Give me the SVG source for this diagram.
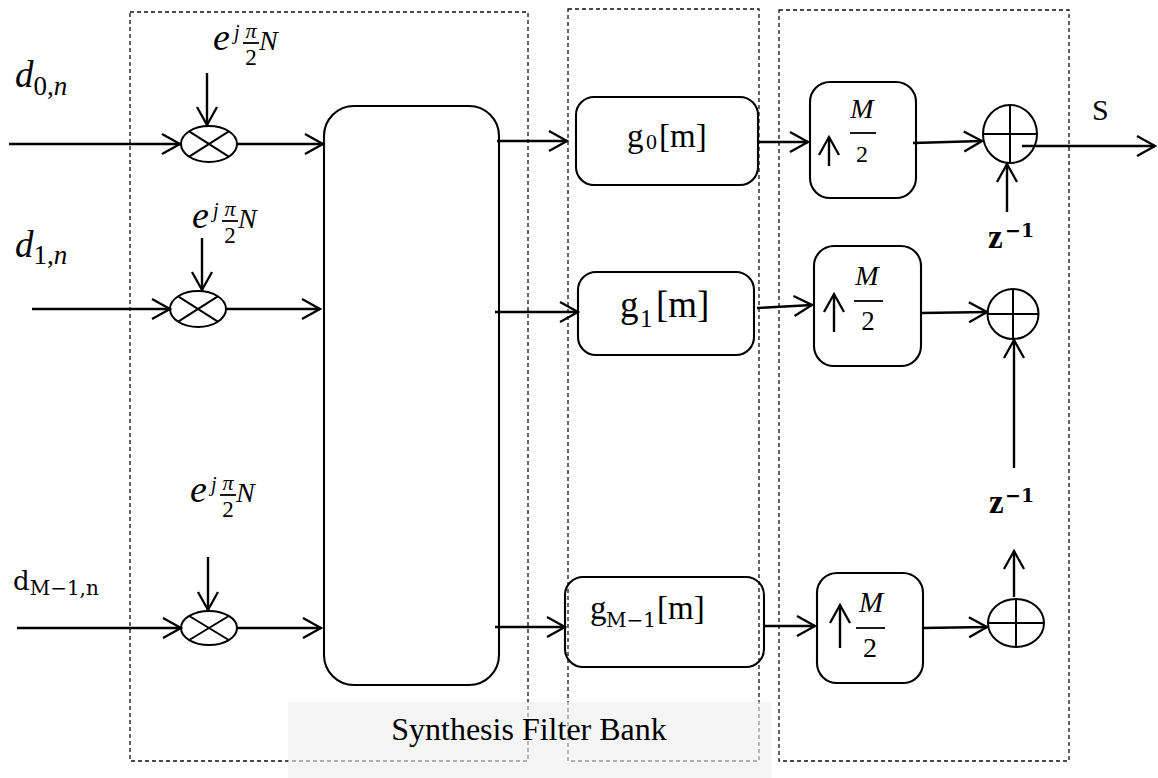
<svg xmlns="http://www.w3.org/2000/svg" width="1158" height="778" viewBox="0 0 1158 778">
<style>
.dash{fill:none;stroke:#111;stroke-width:1.3;stroke-dasharray:4 3}
.box{fill:none;stroke:#000;stroke-width:2.1}
.ln{fill:none;stroke:#000;stroke-width:2.4;marker-end:url(#ah)}
.th{fill:none;stroke:#000;stroke-width:2}
.bar{stroke:#000;stroke-width:1.8}
.tm{font-family:"Liberation Serif","Times New Roman",serif;fill:#000}
.mi{font-family:"Liberation Serif","Times New Roman",serif;font-style:italic;fill:#000}
.mu{font-family:"DejaVu Serif",serif;fill:#000}
</style>
<defs>
<marker id="ah" viewBox="-20 -12 24 24" refX="0" refY="0" markerWidth="24" markerHeight="24" markerUnits="userSpaceOnUse" orient="auto">
<path d="M-18,-10 L0,0 L-18,10" fill="none" stroke="#000" stroke-width="2.3"/>
</marker>
</defs>
<rect width="1158" height="778" fill="#fff"/>

<g id="regions">
<rect class="dash" x="130" y="12" width="398" height="749"/>
<rect class="dash" x="568" y="9" width="191" height="752"/>
<rect class="dash" x="779" y="10" width="290" height="751"/>
</g>

<g id="inputs">
<text x="15" y="87"><tspan class="mi" font-size="37">d</tspan><tspan class="tm" font-size="27" dy="8">0,</tspan><tspan class="mi" font-size="27">n</tspan></text>
<text x="15" y="257"><tspan class="mi" font-size="37">d</tspan><tspan class="tm" font-size="27" dy="7">1,</tspan><tspan class="mi" font-size="27">n</tspan></text>
<text x="13" y="590"><tspan class="mu" font-size="26">d</tspan><tspan class="mu" font-size="20" dy="5">M−1,n</tspan></text>
</g>

<g id="phase0" transform="translate(213,50)">
<text class="mi" x="0" y="0" font-size="38">e</text>
<text class="mi" x="21" y="-11" font-size="20">j</text>
<text class="mi" x="38" y="-12" font-size="22" text-anchor="middle">π</text>
<line class="bar" x1="30" y1="-7" x2="46" y2="-7"/>
<text class="tm" x="38" y="15" font-size="23" text-anchor="middle">2</text>
<text class="mi" x="46" y="0" font-size="28">N</text>
</g>
<g id="phase1" transform="translate(192,228)">
<text class="mi" x="0" y="0" font-size="38">e</text>
<text class="mi" x="21" y="-11" font-size="20">j</text>
<text class="mi" x="38" y="-12" font-size="22" text-anchor="middle">π</text>
<line class="bar" x1="30" y1="-7" x2="46" y2="-7"/>
<text class="tm" x="38" y="15" font-size="23" text-anchor="middle">2</text>
<text class="mi" x="46" y="0" font-size="28">N</text>
</g>
<g id="phase2" transform="translate(190,502)">
<text class="mi" x="0" y="0" font-size="38">e</text>
<text class="mi" x="21" y="-11" font-size="20">j</text>
<text class="mi" x="38" y="-12" font-size="22" text-anchor="middle">π</text>
<line class="bar" x1="30" y1="-7" x2="46" y2="-7"/>
<text class="tm" x="38" y="15" font-size="23" text-anchor="middle">2</text>
<text class="mi" x="46" y="0" font-size="28">N</text>
</g>

<g id="mixer0">
<ellipse class="th" cx="209" cy="144" rx="28" ry="18"/>
<path class="th" d="M189.2,131.3 L228.8,156.7 M189.2,156.7 L228.8,131.3"/>
</g>
<g id="mixer1">
<ellipse class="th" cx="198" cy="309" rx="28" ry="18"/>
<path class="th" d="M178.2,296.3 L217.8,321.7 M178.2,321.7 L217.8,296.3"/>
</g>
<g id="mixer2">
<ellipse class="th" cx="209" cy="628" rx="28" ry="17"/>
<path class="th" d="M189.2,616 L228.8,640 M189.2,640 L228.8,616"/>
</g>

<g id="transform">
<rect class="box" x="324" y="106" width="175" height="579" rx="30"/>
</g>

<g id="g0">
<rect class="box" x="576" y="97" width="182" height="88" rx="18"/>
<text class="tm" font-size="33"><tspan x="627" y="147">g</tspan><tspan x="646" y="149" font-size="22">0</tspan><tspan x="659" y="147">[m]</tspan></text>
</g>
<g id="g1">
<rect class="box" x="578" y="272" width="176" height="83" rx="18"/>
<text class="tm" font-size="37"><tspan x="620" y="317">g</tspan><tspan x="640" y="327" font-size="25">1</tspan><tspan x="656" y="317">[m]</tspan></text>
</g>
<g id="gM">
<rect class="box" x="565" y="577" width="199" height="90" rx="18"/>
<text class="tm" font-size="33"><tspan x="590" y="619">g</tspan><tspan class="mu" x="606" y="627" font-size="20">M−1</tspan><tspan x="657" y="619">[m]</tspan></text>
</g>

<g id="up0">
<rect class="box" x="810" y="82" width="106" height="116" rx="20"/>
<path class="ln" d="M829,166 L829,137"/>
<text class="mi" x="862" y="118" font-size="28" text-anchor="middle">M</text>
<line class="bar" x1="850" y1="133" x2="876" y2="133"/>
<text class="tm" x="862" y="162" font-size="24" text-anchor="middle">2</text>
</g>
<g id="up1">
<rect class="box" x="814" y="246" width="107" height="120" rx="20"/>
<path class="ln" d="M834,332 L834,294"/>
<text class="mi" x="867" y="285" font-size="28" text-anchor="middle">M</text>
<line class="bar" x1="854" y1="301" x2="883" y2="301"/>
<text class="tm" x="868" y="330" font-size="27" text-anchor="middle">2</text>
</g>
<g id="up2">
<rect class="box" x="817" y="573" width="106" height="110" rx="20"/>
<path class="ln" d="M840,648 L840,605"/>
<text class="mi" x="871" y="612" font-size="29" text-anchor="middle">M</text>
<line class="bar" x1="856" y1="628" x2="885" y2="628"/>
<text class="tm" x="870" y="657" font-size="28" text-anchor="middle">2</text>
</g>

<g id="sum0">
<ellipse class="th" cx="1010" cy="134" rx="27" ry="29"/>
<path class="th" d="M983,134 L1037,134 M1010,105 L1010,163"/>
</g>
<g id="sum1">
<ellipse class="th" cx="1013" cy="314" rx="25.5" ry="25"/>
<path class="th" d="M987.5,314 L1038.5,314 M1013,289 L1013,339"/>
</g>
<g id="sum2">
<ellipse class="th" cx="1016" cy="623" rx="28" ry="24"/>
<path class="th" d="M988,623 L1044,623 M1016,599 L1016,647"/>
</g>

<g id="delay0">
<text x="988" y="248"><tspan class="tm" font-size="33" font-weight="bold">z</tspan><tspan class="mu" font-size="19" font-weight="bold" x="1005" y="237">−1</tspan></text>
</g>
<g id="delay1">
<text x="989" y="513"><tspan class="tm" font-size="33" font-weight="bold">z</tspan><tspan class="mu" font-size="19" font-weight="bold" x="1005" y="502">−1</tspan></text>
</g>

<g id="output">
<text class="tm" x="1092" y="120" font-size="30">S</text>
</g>

<g id="connectors">
<path class="ln" d="M9,144 L180,144"/>
<path class="ln" d="M32,309 L170,309"/>
<path class="ln" d="M17,628 L181,628"/>
<path class="ln" d="M207,73 L207,125"/>
<path class="ln" d="M202,238 L202,290"/>
<path class="ln" d="M208,557 L208,610"/>
<path class="ln" d="M237,144 L323,144"/>
<path class="ln" d="M226,309 L320,309"/>
<path class="ln" d="M237,628 L321,628"/>
<path class="ln" d="M497,141 L567,141"/>
<path class="ln" d="M495,312 L578,312"/>
<path class="ln" d="M495,627 L565,627"/>
<path class="ln" d="M757,142 L808,142"/>
<path class="ln" d="M757,308 L812,305"/>
<path class="ln" d="M764,626 L815,626"/>
<path class="ln" d="M913,143 L982,141"/>
<path class="ln" d="M921,313 L987,312"/>
<path class="ln" d="M923,628 L987,627"/>
<path class="ln" d="M1022,146 L1155,146"/>
<path class="ln" d="M1007,212 L1007,164"/>
<path class="ln" d="M1014,468 L1014,340"/>
<path class="ln" d="M1014,597 L1014,551"/>
</g>

<g id="caption">
<rect x="288" y="702" width="483" height="76" fill="#eeeeee" fill-opacity="0.6"/>
<text class="tm" x="529" y="740" font-size="32" text-anchor="middle" fill="#111">Synthesis Filter Bank</text>
</g>
</svg>
